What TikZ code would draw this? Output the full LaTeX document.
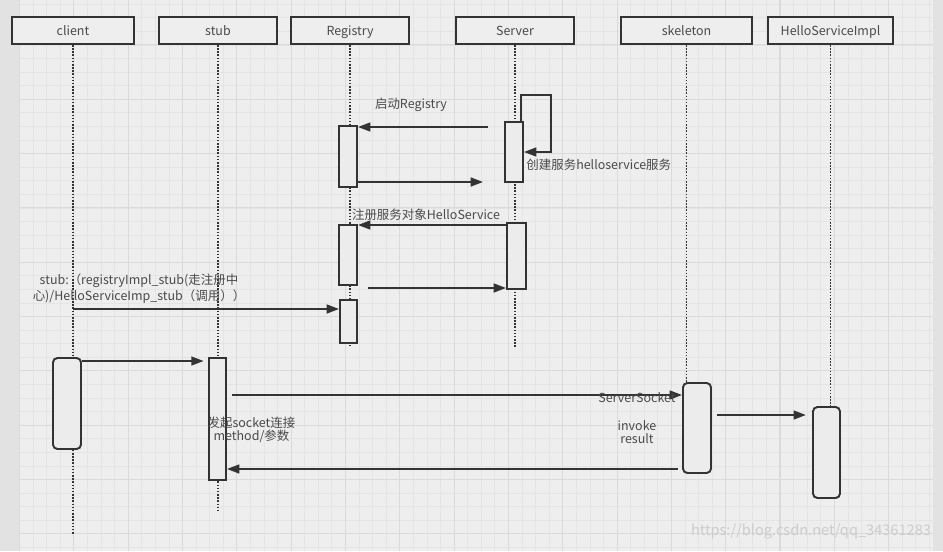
\documentclass[tikz,border=0pt]{standalone}
\usepackage{fontspec}
\setmainfont{Noto Sans CJK SC}
\usetikzlibrary{arrows.meta,positioning}
\definecolor{bgcol}{HTML}{EEEEEE}
\definecolor{stripcol}{HTML}{E2E2E2}
\definecolor{minorcol}{HTML}{E4E4E4}
\definecolor{majorcol}{HTML}{DADADA}
\definecolor{linecol}{HTML}{333333}
\definecolor{txtcol}{HTML}{4A4A4A}
\definecolor{actcol}{HTML}{ECECEC}
\newcommand{\lblfont}{\fontsize{7.1}{7.4}\selectfont}
\tikzset{
	head/.style={draw=linecol, line width=1.1pt, fill=bgcol, minimum height=0.54cm, inner sep=0pt, text height=7.6pt, text depth=1.4pt, text=txtcol, font=\lblfont},
	act/.style={draw=linecol, line width=1.1pt, fill=actcol, inner sep=0pt, minimum width=0.36cm},
	ract/.style={act, rounded corners=2.5pt, minimum width=0.56cm},
	life/.style={linecol, line width=0.9pt, dash pattern=on 0.9pt off 0.9pt},
	msg/.style={linecol, line width=1.1pt, -{Triangle[length=7pt,width=5pt]}},
	lab/.style={text=txtcol, font=\lblfont, inner sep=0pt, align=center},
	minorgrid/.style={minorcol, line width=0.4pt},
	majorgrid/.style={majorcol, line width=0.6pt}
}
\begin{document}
\begin{tikzpicture}[x=0.02cm, y=-0.02cm]
	\useasboundingbox (0,0) rectangle (943,551);
	%Griglia
	\fill[bgcol] (0,0) rectangle (943,551);
	\fill[stripcol] (0,0) rectangle (19.5,551);
	\fill[stripcol] (933,0) rectangle (943,551);
	\foreach \i in {0,...,67} \draw[minorgrid] ({19.5+13.58*\i},0) -- ++(0,551);
	\foreach \j in {0,...,40} \draw[minorgrid] (19.5,{4.16+13.58*\j}) -- (933,{4.16+13.58*\j});
	\foreach \i in {0,...,16} \draw[majorgrid] ({19.5+54.32*\i},0) -- ++(0,551);
	\foreach \j in {0,...,9} \draw[majorgrid] (19.5,{44.9+54.32*\j}) -- (933,{44.9+54.32*\j});
	%Intestazioni
	\node [head, minimum width=2.44cm] (client) at (73,30.5) {client};
	\node [head, minimum width=2.36cm] (stub) at (218,30.5) {stub};
	\node [head, minimum width=2.36cm] (registry) at (350,30.5) {Registry};
	\node [head, minimum width=2.36cm] (server) at (515,30.5) {Server};
	\node [head, minimum width=2.62cm] (skeleton) at (686.5,30.5) {skeleton};
	\node [head, minimum width=2.5cm] (impl) at (830.5,30.5) {HelloServiceImpl};
	%Linee di vita
	\draw [life] (client.south) -- (client.south |- 0,535);
	\draw [life] (stub.south) -- (stub.south |- 0,512);
	\draw [life] (registry.south) -- (registry.south |- 0,346);
	\draw [life] (server.south) -- (server.south |- 0,347);
	\draw [life] (skeleton.south) -- (skeleton.south |- 0,383);
	\draw [life] (impl.south) -- (impl.south |- 0,407);
	%Attivazioni
	\node [act, minimum height=1.22cm] (reg1) at (348,156.5) {};
	\node [act, minimum height=1.2cm] (reg2) at (348,255) {};
	\node [act, minimum width=0.34cm, minimum height=0.86cm] (reg3) at (348.5,321.5) {};
	\node [act, minimum height=1.2cm] (srv1) at (514,152) {};
	\node [act, minimum width=0.38cm, minimum height=1.32cm] (srv2) at (516.5,256) {};
	\node [ract, minimum height=1.82cm] (cact) at (67,403.5) {};
	\node [act, minimum width=0.34cm, minimum height=2.44cm] (sact) at (217.5,419) {};
	\node [ract, minimum height=1.8cm] (skel) at (697,428) {};
	\node [ract, minimum width=0.54cm, minimum height=1.82cm] (himpl) at (826.5,452.5) {};
	%Messaggi
	\coordinate (m1) at (488,127);
	\coordinate (m2) at (483,182);
	\coordinate (loop) at (551,95);
	\coordinate (l1) at (551,152);
	\coordinate (m3) at (0,225);
	\coordinate (m4) at (368,288);
	\coordinate (m5) at (0,309);
	\coordinate (m6) at (0,361);
	\coordinate (m7) at (232,395);
	\coordinate (m8) at (678,469);
	\coordinate (m9) at (717,415);
	\draw [msg] (m1) -- (reg1.east |- m1);
	\draw [msg] (reg1.east |- m2) -- (m2);
	\draw [msg] ([xshift=0.14cm]srv1.north) |- (loop) -- (l1) -- (srv1.east |- l1);
	\draw [msg] (srv2.west |- m3) -- (reg2.east |- m3);
	\draw [msg] (m4) -- (srv2.west |- m4);
	\draw [msg] (client |- m5) -- (reg3.west |- m5);
	\draw [msg, shorten >=2.5pt] (cact.east |- m6) -- (sact.west |- m6);
	\draw [msg] (m7) -- (skel.west |- m7);
	\draw [msg] (m8) -- (sact.east |- m8);
	\draw [msg, shorten >=3.5pt] (m9) -- (himpl.west |- m9);
	%Etichette
	\node [lab] at (411,105) {启动Registry};
	\node [lab, anchor=west] at (526,165) {创建服务helloservice服务};
	\node [lab] at (426,215) {注册服务对象HelloService};
	\node [lab] at (139,288.5) {stub:（registryImpl\_stub(走注册中\\心)/HelloServiceImp\_stub（调用））};
	\node [lab] at (637,398) {ServerSocket};
	\node [lab] at (637,432.5) {invoke\\result};
	\node [lab] at (251.5,430) {发起socket连接\\method/参数};
	\node [text=black!20, font=\fontsize{8.3}{10}\selectfont, inner sep=0pt] at (811,532) {https://blog.csdn.net/qq\_34361283};
\end{tikzpicture}
\end{document}
